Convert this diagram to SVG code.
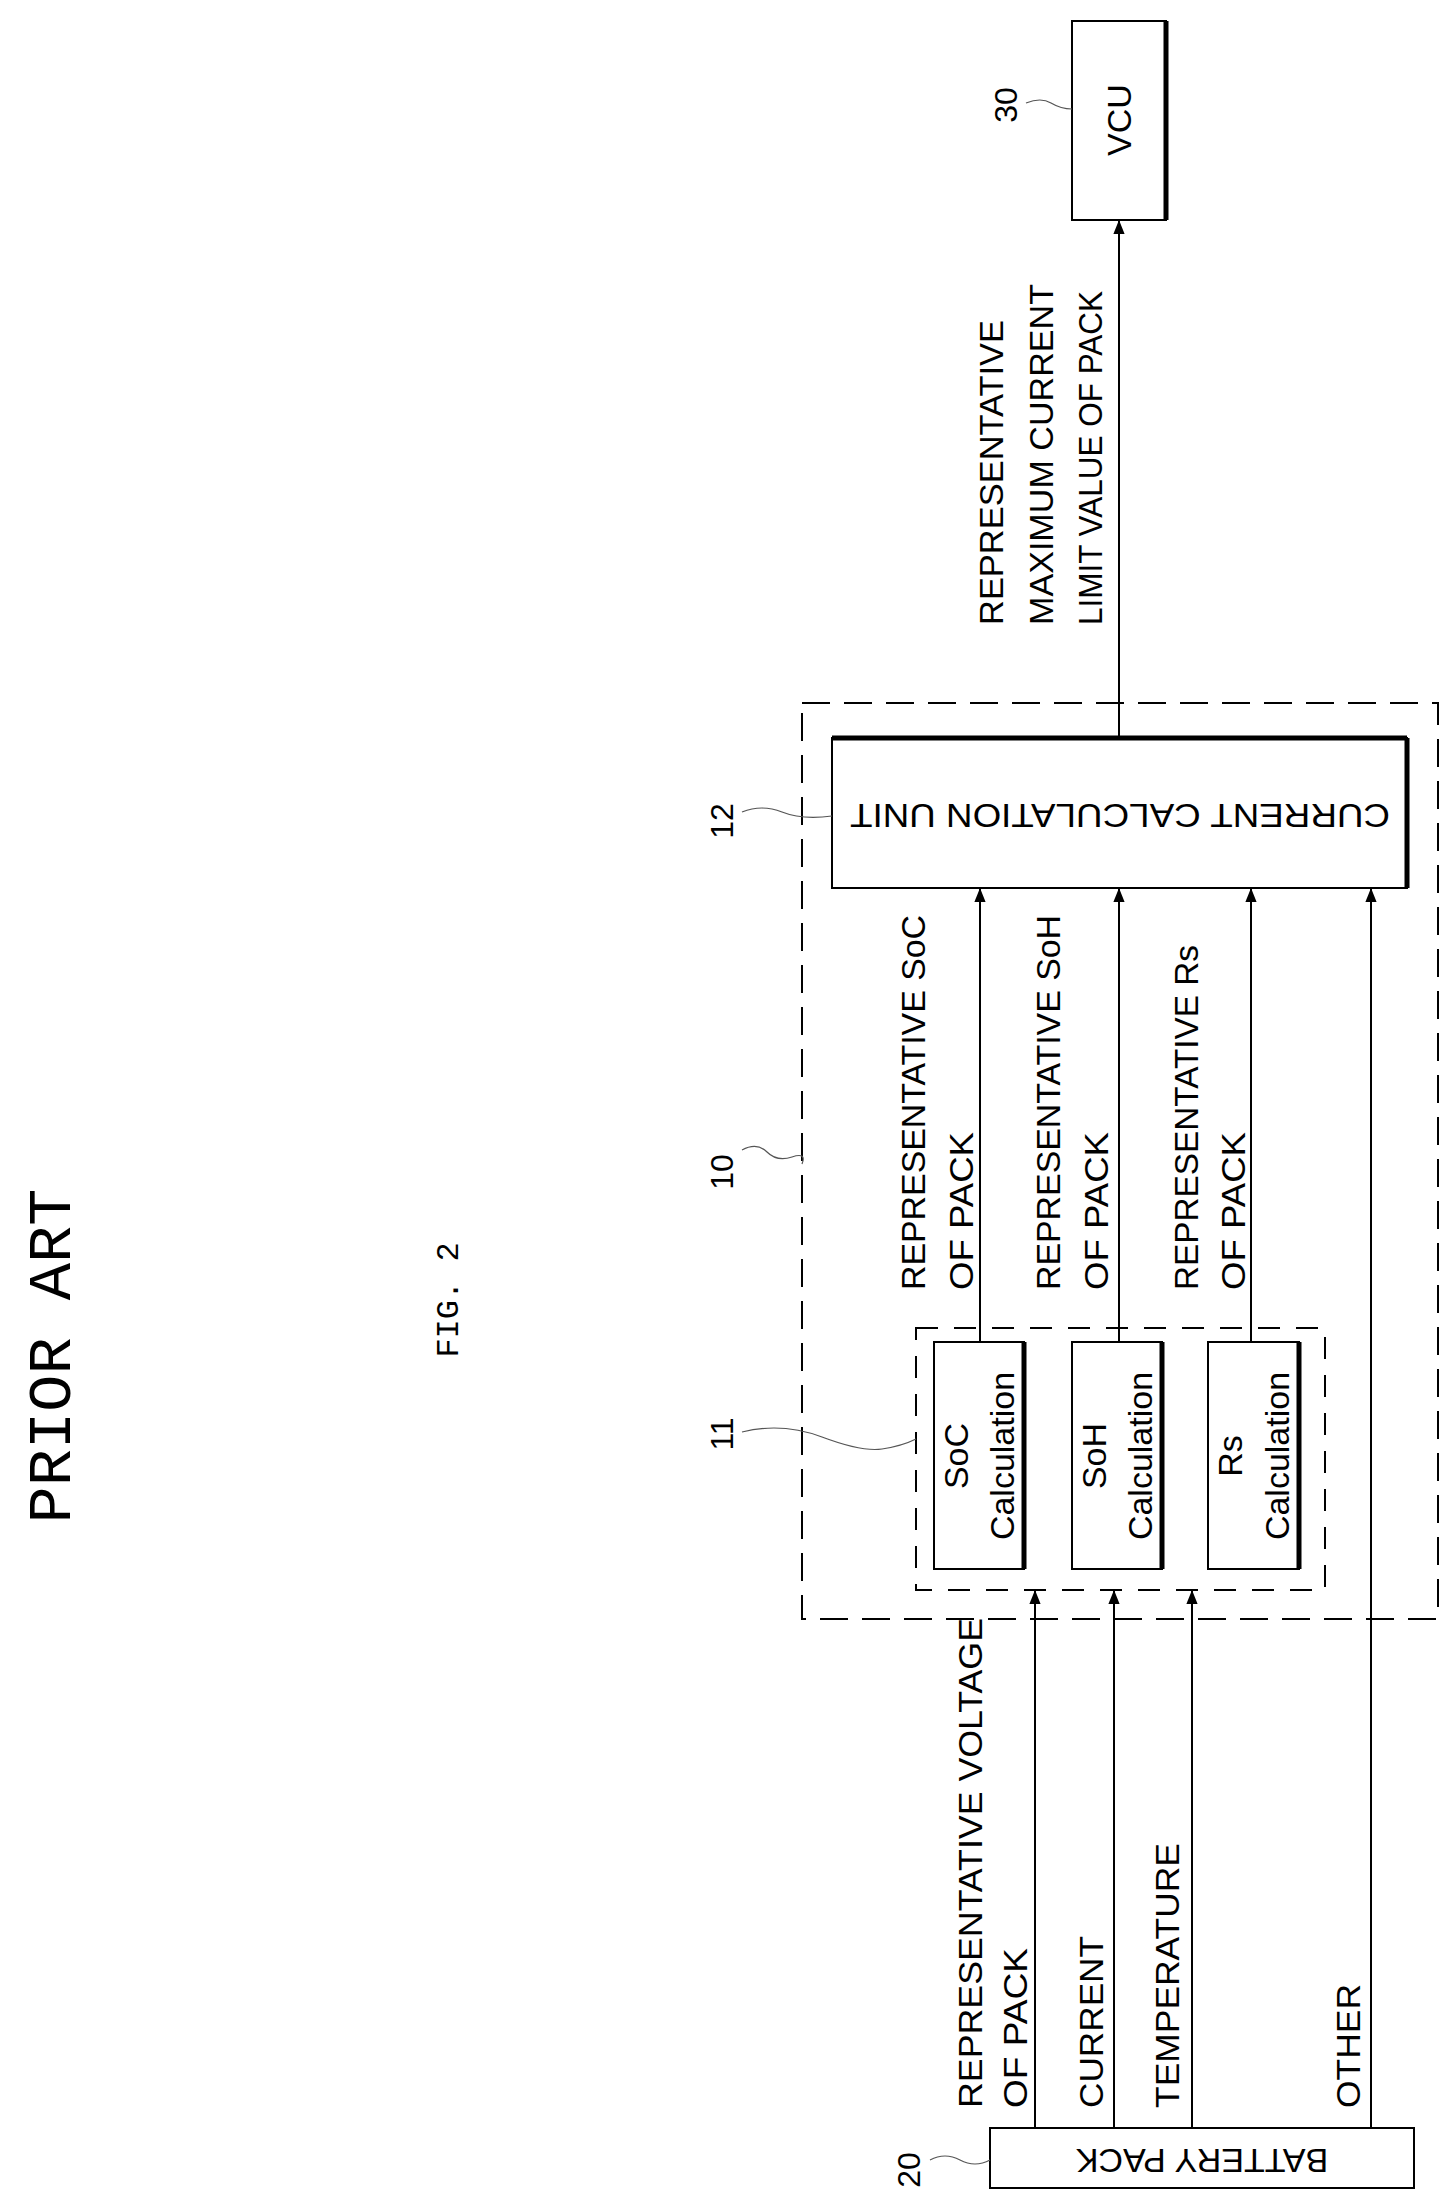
<svg xmlns="http://www.w3.org/2000/svg" width="1454" height="2201" viewBox="0 0 1454 2201">
<defs>
<marker id="ah" viewBox="0 0 10 10" refX="10" refY="5" markerWidth="14" markerHeight="14" markerUnits="userSpaceOnUse" orient="auto"><path d="M0,1 L10,5 L0,9 Z" fill="#000"/></marker>
<style>
.t{font-family:"Liberation Sans",Arial,sans-serif;font-size:34px;fill:#000}
.n{font-family:"Liberation Sans",Arial,sans-serif;font-size:32px;fill:#000}
.box{fill:#fff;stroke:#000;stroke-width:2}
.bold{fill:none;stroke:#000;stroke-width:5}
.dash{fill:none;stroke:#000;stroke-width:2;stroke-dasharray:28,14}
.ln{fill:none;stroke:#000;stroke-width:2}
.lead{fill:none;stroke:#555;stroke-width:1.2}
</style>
</defs>
<rect width="1454" height="2201" fill="#fff"/>
<text x="70" y="1356" transform="rotate(-90 70 1356)" text-anchor="middle" style="font-family:'Liberation Mono',monospace;font-size:62px">PRIOR ART</text>
<text x="458" y="1300" transform="rotate(-90 458 1300)" text-anchor="middle" style="font-family:'Liberation Mono',monospace;font-size:32px">FIG. 2</text>
<g transform="translate(-10,0)">
<g id="n10"><rect class="dash" x="812" y="703" width="636" height="916"/>
<text class="n" x="743" y="1172" transform="rotate(-90 743 1172)" text-anchor="middle">10</text>
<path class="lead" d="M752,1150 q15,-8 25,2 t25,5 t10,7"/></g>

<g id="n11"><rect class="dash" x="926" y="1328" width="409" height="262" style="stroke-dasharray:22,16"/>
<text class="n" x="743" y="1434" transform="rotate(-90 743 1434)" text-anchor="middle">11</text>
<path class="lead" d="M752,1432 q40,-10 80,5 t60,12 t34,-10"/></g>

<g id="soc"><rect class="box" x="944" y="1342" width="90" height="227"/><path class="bold" d="M1034,1342 V1569"/>
<text class="t" x="978" y="1456" transform="rotate(-90 978 1456)" text-anchor="middle">SoC</text>
<text class="t" x="1024" y="1456" transform="rotate(-90 1024 1456)" text-anchor="middle">Calculation</text></g>
<g id="soh"><rect class="box" x="1082" y="1342" width="90" height="227"/><path class="bold" d="M1172,1342 V1569"/>
<text class="t" x="1116" y="1456" transform="rotate(-90 1116 1456)" text-anchor="middle">SoH</text>
<text class="t" x="1162" y="1456" transform="rotate(-90 1162 1456)" text-anchor="middle">Calculation</text></g>
<g id="rs"><rect class="box" x="1218" y="1342" width="91" height="227"/><path class="bold" d="M1309,1342 V1569"/>
<text class="t" x="1252" y="1456" transform="rotate(-90 1252 1456)" text-anchor="middle">Rs</text>
<text class="t" x="1299" y="1456" transform="rotate(-90 1299 1456)" text-anchor="middle">Calculation</text></g>

<g id="n12"><rect class="box" x="842" y="738" width="575" height="150"/><path class="bold" d="M1417,738 V888 M842,738 H1417"/>
<text class="t" x="1130" y="813" transform="rotate(180 1130 813)" text-anchor="middle" dominant-baseline="middle" textLength="540" lengthAdjust="spacingAndGlyphs">CURRENT CALCULATION UNIT</text>
<text class="n" x="743" y="821" transform="rotate(-90 743 821)" text-anchor="middle">12</text>
<path class="lead" d="M752,812 q20,-8 40,0 t50,4"/></g>

<g id="n30"><rect class="box" x="1082" y="21" width="94" height="199"/><path class="bold" d="M1176,21 V220"/>
<text class="t" x="1141" y="120" transform="rotate(-90 1141 120)" text-anchor="middle">VCU</text>
<text class="n" x="1027" y="105" transform="rotate(-90 1027 105)" text-anchor="middle">30</text>
<path class="lead" d="M1036,103 q15,-6 25,0 t21,6"/></g>

<g id="n20"><rect class="box" x="1000" y="2128" width="424" height="60"/>
<text class="t" x="1212" y="2158" transform="rotate(180 1212 2158)" text-anchor="middle" dominant-baseline="middle">BATTERY PACK</text>
<text class="n" x="930" y="2170" transform="rotate(-90 930 2170)" text-anchor="middle">20</text>
<path class="lead" d="M940,2160 q15,-8 30,0 t30,0"/></g>

<g id="connectors">
<path class="ln" d="M1129,738 V220" marker-end="url(#ah)"/>
<path class="ln" d="M990,1342 V888" marker-end="url(#ah)"/>
<path class="ln" d="M1129,1342 V888" marker-end="url(#ah)"/>
<path class="ln" d="M1261,1342 V888" marker-end="url(#ah)"/>
<path class="ln" d="M1381,2128 V888" marker-end="url(#ah)"/>
<path class="ln" d="M1045,2128 V1590" marker-end="url(#ah)"/>
<path class="ln" d="M1124,2128 V1590" marker-end="url(#ah)"/>
<path class="ln" d="M1202,2128 V1590" marker-end="url(#ah)"/>
</g>

<g id="labels">
<text class="t" x="1013" y="625" transform="rotate(-90 1013 625)" textLength="305" lengthAdjust="spacingAndGlyphs">REPRESENTATIVE</text>
<text class="t" x="1063" y="625" transform="rotate(-90 1063 625)" textLength="341" lengthAdjust="spacingAndGlyphs">MAXIMUM CURRENT</text>
<text class="t" x="1112" y="625" transform="rotate(-90 1112 625)" textLength="334" lengthAdjust="spacingAndGlyphs">LIMIT VALUE OF PACK</text>
<text class="t" x="935" y="1290" transform="rotate(-90 935 1290)" textLength="375" lengthAdjust="spacingAndGlyphs">REPRESENTATIVE SoC</text>
<text class="t" x="983" y="1290" transform="rotate(-90 983 1290)" textLength="158" lengthAdjust="spacingAndGlyphs">OF PACK</text>
<text class="t" x="1070" y="1290" transform="rotate(-90 1070 1290)" textLength="375" lengthAdjust="spacingAndGlyphs">REPRESENTATIVE SoH</text>
<text class="t" x="1118" y="1290" transform="rotate(-90 1118 1290)" textLength="158" lengthAdjust="spacingAndGlyphs">OF PACK</text>
<text class="t" x="1208" y="1290" transform="rotate(-90 1208 1290)" textLength="345" lengthAdjust="spacingAndGlyphs">REPRESENTATIVE Rs</text>
<text class="t" x="1255" y="1290" transform="rotate(-90 1255 1290)" textLength="158" lengthAdjust="spacingAndGlyphs">OF PACK</text>
<text class="t" x="992" y="2108" transform="rotate(-90 992 2108)" textLength="490" lengthAdjust="spacingAndGlyphs">REPRESENTATIVE VOLTAGE</text>
<text class="t" x="1037" y="2108" transform="rotate(-90 1037 2108)" textLength="160" lengthAdjust="spacingAndGlyphs">OF PACK</text>
<text class="t" x="1113" y="2108" transform="rotate(-90 1113 2108)" textLength="172" lengthAdjust="spacingAndGlyphs">CURRENT</text>
<text class="t" x="1189" y="2108" transform="rotate(-90 1189 2108)" textLength="265" lengthAdjust="spacingAndGlyphs">TEMPERATURE</text>
<text class="t" x="1370" y="2108" transform="rotate(-90 1370 2108)" textLength="124" lengthAdjust="spacingAndGlyphs">OTHER</text>
</g>
</g>
</svg>
